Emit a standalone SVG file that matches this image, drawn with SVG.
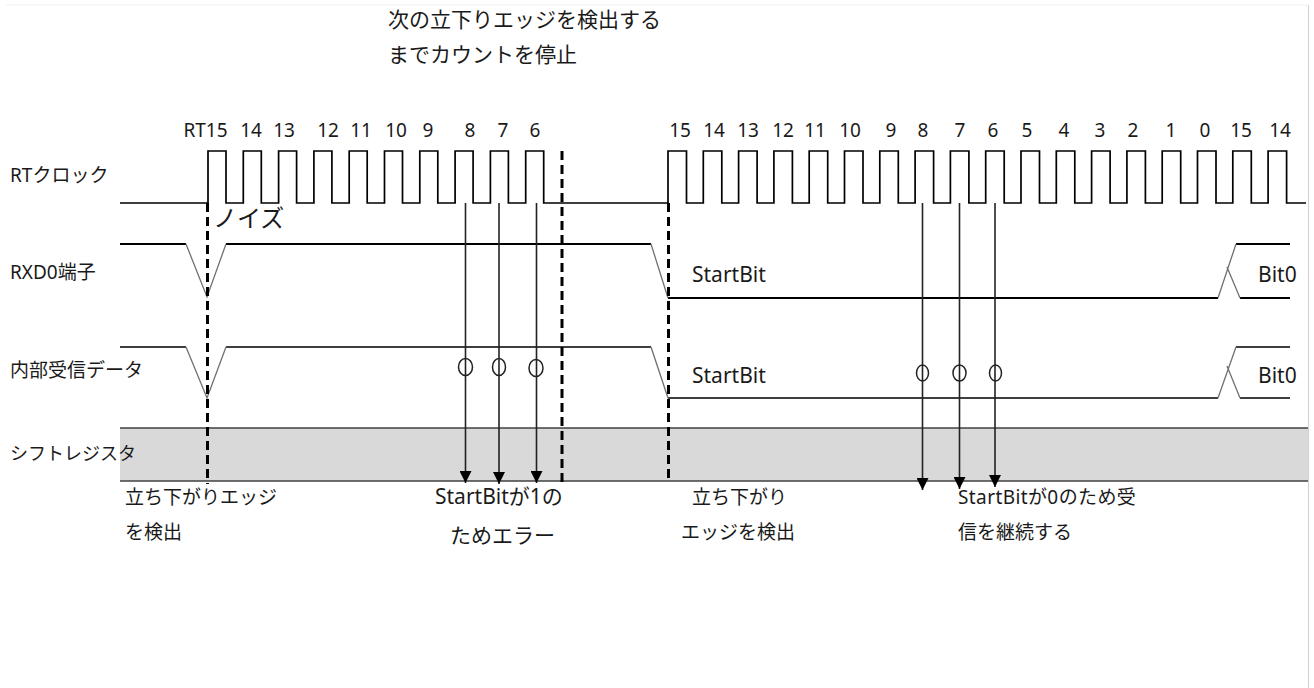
<svg xmlns="http://www.w3.org/2000/svg" width="1314" height="688" viewBox="0 0 1314 688">
<style>
text{font-family:"Noto Sans","Noto Sans CJK JP",sans-serif;fill:#1a1a1a}
.lbl{font-size:19px}
.num{font-size:19px;text-anchor:middle}
.sig{fill:none;stroke:#000;stroke-width:2}
.thin{fill:none;stroke:#000;stroke-width:1.3}
.slope{fill:none;stroke:#707070;stroke-width:1.3}
.dash{fill:none;stroke:#000;stroke-width:3;stroke-dasharray:9,5}
.arr{fill:none;stroke:#222;stroke-width:1.6;marker-end:url(#ah)}
.ring{fill:none;stroke:#222;stroke-width:1.5}
</style>
<defs>
<marker id="ah" viewBox="0 0 10 10" refX="10" refY="5" markerUnits="userSpaceOnUse" markerWidth="14" markerHeight="12" orient="auto">
<path d="M0,0 L10,5 L0,10 z" fill="#000"/>
</marker>
</defs>
<rect width="1314" height="688" fill="#fff"/>
<g id="border">
<line x1="6" y1="5" x2="1308" y2="5" stroke="#f0f0f0" stroke-width="1"/>
<line x1="1308.5" y1="5" x2="1308.5" y2="688" stroke="#d4d4d4" stroke-width="1.2"/>
</g>
<g id="shift-register">
<rect x="120" y="428" width="1188" height="53" fill="#d9d9d9"/>
<line x1="120" y1="428" x2="1308" y2="428" stroke="#404040" stroke-width="1.5"/>
<line x1="120" y1="481" x2="1308" y2="481" stroke="#404040" stroke-width="1.5"/>
</g>
<g id="row-labels" class="lbl">
<text x="10" y="182">RTクロック</text>
<text x="10" y="279">RXD0端子</text>
<text x="10" y="377">内部受信データ</text>
<text x="10" y="460" style="font-size:18px">シフトレジスタ</text>
</g>
<g id="title">
<text x="388" y="27" style="font-size:21px">次の立下りエッジを検出する</text>
<text x="388" y="62" style="font-size:21px">までカウントを停止</text>
</g>
<g id="clock">
<path class="sig" style="stroke-width:1.7" d="M120,203 H208 V151 H226 V203 H243.3 V151 H261.3 V203 H278.6 V151 H296.6 V203 H313.9 V151 H331.9 V203 H349.2 V151 H367.2 V203 H384.5 V151 H402.5 V203 H419.8 V151 H437.8 V203 H455.1 V151 H473.1 V203 H490.4 V151 H508.4 V203 H525.7 V151 H543.7 V203 H668 V151 H686.5 V203 H703.3 V151 H721.8 V203 H738.6 V151 H757.1 V203 H773.9 V151 H792.4 V203 H809.2 V151 H827.7 V203 H844.5 V151 H863 V203 H879.8 V151 H898.3 V203 H915.1 V151 H933.6 V203 H950.4 V151 H968.9 V203 H985.7 V151 H1004.2 V203 H1021 V151 H1039.5 V203 H1056.3 V151 H1074.8 V203 H1091.6 V151 H1110.1 V203 H1126.9 V151 H1145.4 V203 H1162.2 V151 H1180.7 V203 H1197.5 V151 H1216 V203 H1232.8 V151 H1251.3 V203 H1268.1 V151 H1286.6 V203 H1306"/>
</g>
<g id="clock-numbers" class="num">
<text x="205.5" y="137">RT15</text>
<text x="251" y="137">14</text>
<text x="284" y="137">13</text>
<text x="328" y="137">12</text>
<text x="361" y="137">11</text>
<text x="396" y="137">10</text>
<text x="428" y="137">9</text>
<text x="470" y="137">8</text>
<text x="503" y="137">7</text>
<text x="535" y="137">6</text>
<text x="680" y="137">15</text>
<text x="714" y="137">14</text>
<text x="748" y="137">13</text>
<text x="783" y="137">12</text>
<text x="815" y="137">11</text>
<text x="850" y="137">10</text>
<text x="891" y="137">9</text>
<text x="923" y="137">8</text>
<text x="960" y="137">7</text>
<text x="993" y="137">6</text>
<text x="1027" y="137">5</text>
<text x="1064" y="137">4</text>
<text x="1100" y="137">3</text>
<text x="1133" y="137">2</text>
<text x="1171" y="137">1</text>
<text x="1205" y="137">0</text>
<text x="1241" y="137">15</text>
<text x="1280" y="137">14</text>
</g>
<g id="rxd0">
<path class="sig" d="M120,244 H186 M226,244 H651 M668,298 H1218 M1236,244 H1290 M1240,298 H1290"/>
<path class="slope" d="M186,244 L207,297 L226,244 M651,244 L668,298 M1218,298 L1236,244 M1227,267 L1240,298"/>
<text x="692" y="281.5" style="font-size:21px">StartBit</text>
<text x="1258" y="281.5" style="font-size:21px">Bit0</text>
<text x="213" y="227" style="font-size:24px">ノイズ</text>
</g>
<g id="internal-data">
<path class="thin" d="M120,347 H186 M226,347 H651 M668,398 H1218 M1236,347 H1290 M1240,398 H1290"/>
<path class="slope" d="M186,347 L207,398 L226,347 M651,347 L668,398 M1218,398 L1236,347 M1227,366 L1240,398"/>
<text x="692" y="382.5" style="font-size:21px">StartBit</text>
<text x="1258" y="382.5" style="font-size:21px">Bit0</text>
</g>
<g id="samples">
<ellipse class="ring" cx="465.5" cy="367" rx="7" ry="8.5"/>
<ellipse class="ring" cx="499" cy="367" rx="6.5" ry="8.5"/>
<ellipse class="ring" cx="536" cy="368" rx="7" ry="8.5"/>
<ellipse class="ring" cx="922.5" cy="373" rx="6" ry="8"/>
<ellipse class="ring" cx="959.5" cy="373" rx="6.5" ry="8"/>
<ellipse class="ring" cx="995.5" cy="373" rx="6" ry="8"/>
</g>
<g id="connectors">
<line class="dash" x1="207.5" y1="203" x2="207.5" y2="484"/>
<line class="dash" x1="562" y1="151" x2="562" y2="482"/>
<line class="dash" x1="668.5" y1="203" x2="668.5" y2="482"/>
<line class="arr" x1="465.5" y1="203" x2="465.5" y2="483"/>
<line class="arr" x1="499" y1="203" x2="499" y2="484"/>
<line class="arr" x1="536.5" y1="203" x2="536.5" y2="483"/>
<line class="arr" x1="922.5" y1="203" x2="922.5" y2="490"/>
<line class="arr" x1="959.5" y1="203" x2="959.5" y2="489"/>
<line class="arr" x1="995" y1="203" x2="995" y2="487"/>
</g>
<g id="notes" class="lbl">
<text x="125" y="504">立ち下がりエッジ</text>
<text x="125" y="539">を検出</text>
<text x="435" y="504" style="font-size:21px">StartBitが1の</text>
<text x="450" y="543" style="font-size:21px">ためエラー</text>
<text x="692" y="504">立ち下がり</text>
<text x="681" y="539">エッジを検出</text>
<text x="958" y="504" style="letter-spacing:0.4px">StartBitが0のため受</text>
<text x="958" y="539">信を継続する</text>
</g>
</svg>
